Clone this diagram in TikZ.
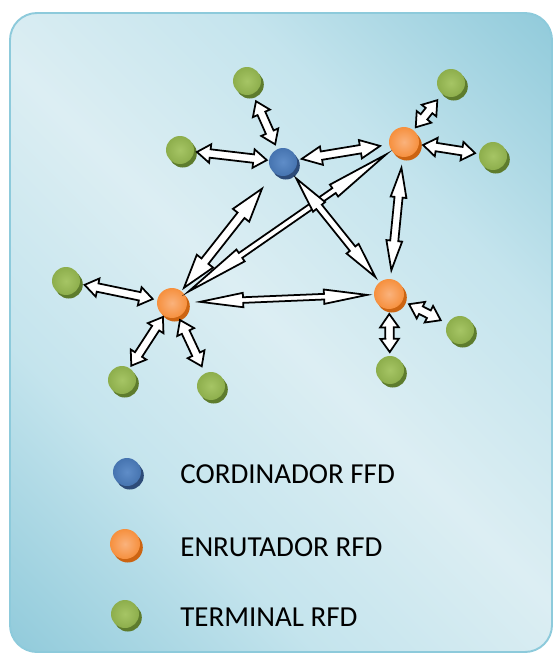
\documentclass[tikz,border=0pt]{standalone}
\usepackage{fontspec}
\setmainfont{Carlito}
\usetikzlibrary{calc,shapes.arrows,shadows}

\definecolor{paneldark}{HTML}{92CBDB}
\definecolor{panelmid}{HTML}{C4E4ED}
\definecolor{panellight}{HTML}{DCEEF3}
\definecolor{panelline}{HTML}{8DCADB}
\definecolor{blueball}{HTML}{4674B0}
\definecolor{bluelight}{HTML}{5F8DC8}
\definecolor{bluedark}{HTML}{2D4B78}
\definecolor{orangeball}{HTML}{F6903E}
\definecolor{orangelight}{HTML}{FAB27C}
\definecolor{orangedark}{HTML}{CC6412}
\definecolor{greenball}{HTML}{8DAE4C}
\definecolor{greenlight}{HTML}{A6C565}
\definecolor{greendark}{HTML}{5E7C2D}

\pgfdeclarehorizontalshading{panelfade}{100bp}{color(0bp)=(paneldark); color(15bp)=(paneldark); color(33bp)=(panelmid); color(50bp)=(panellight); color(67bp)=(panelmid); color(85bp)=(paneldark); color(100bp)=(paneldark)}

\tikzset{
  ball/.style={circle, inner sep=0pt, shading=radial},
  coordinador/.style={ball, minimum size=0.56cm, inner color=bluelight, outer color=blueball,
    general shadow={fill=bluedark, shadow xshift=1.6pt, shadow yshift=-2pt}},
  enrutador/.style={ball, minimum size=0.6cm, inner color=orangelight, outer color=orangeball,
    general shadow={fill=orangedark, shadow xshift=1.6pt, shadow yshift=-2pt}},
  terminal/.style={ball, minimum size=0.56cm, inner color=greenlight, outer color=greenball,
    general shadow={fill=greendark, shadow xshift=1.6pt, shadow yshift=-2pt}},
  link/.style={double arrow, draw=black, fill=white, line width=1pt, inner sep=0pt,
    inner ysep=1.9pt, minimum width=1pt, double arrow head extend=2.9pt, double arrow tip angle=70},
  leyenda/.style={anchor=west, inner sep=0pt, font=\fontsize{16.5}{20}\selectfont}
}

% hollow double arrow between two nodes, #3 and #4 are the gaps at each end
\newcommand{\netlink}[5][]{%
  \path let \p1 = ($(#2)!#3!(#5)$), \p2 = ($(#5)!#4!(#2)$),
    \n1 = {atan2(\y2-\y1,\x2-\x1)}, \n2 = {veclen(\x2-\x1,\y2-\y1)}
    in node[link, #1, rotate=\n1, minimum height=\n2] at ($(\p1)!0.5!(\p2)$) {};}

\begin{document}
\begin{tikzpicture}[x=0.02cm, y=-0.02cm]
  \useasboundingbox (0,0) rectangle (552,655);
  % panel
  \shadedraw[shading=panelfade, shading angle=45, draw=panelline, line width=1.1pt,
    rounded corners=0.54cm] (10,13) rectangle (552,652);

  % network
  \node[coordinador] (coord) at (283,162) {};
  \node[enrutador] (enr1) at (404,142) {};
  \node[enrutador] (enr2) at (172,303) {};
  \node[enrutador] (enr3) at (389,294) {};
  \node[terminal] (term1) at (247,81) {};
  \node[terminal] (term2) at (180,150) {};
  \node[terminal] (term3) at (451,83) {};
  \node[terminal] (term4) at (493,156) {};
  \node[terminal] (term5) at (66,281) {};
  \node[terminal] (term6) at (122,380) {};
  \node[terminal] (term7) at (211,386) {};
  \node[terminal] (term8) at (390,370) {};
  \node[terminal] (term9) at (460,330) {};

  \netlink{term1}{12.6pt}{11pt}{coord}
  \netlink{term2}{9.7pt}{9.3pt}{coord}
  \netlink[double arrow tip angle=50]{coord}{10.8pt}{13.8pt}{enr1}
  \netlink{term3}{12.5pt}{10.7pt}{enr1}
  \netlink{term4}{10.3pt}{11pt}{enr1}
  \netlink[inner ysep=2pt, double arrow head extend=3.4pt, double arrow tip angle=34]{coord}{19.3pt}{11pt}{enr2}
  \netlink[inner ysep=1.2pt, double arrow head extend=2.4pt, double arrow tip angle=13]{enr1}{12.5pt}{11.5pt}{enr2}
  \netlink[inner ysep=1.5pt, double arrow head extend=2.4pt, double arrow tip angle=24]{coord}{12pt}{12.3pt}{enr3}
  \netlink[inner ysep=1.8pt, double arrow head extend=2.2pt, double arrow tip angle=30]{enr1}{14.8pt}{13.6pt}{enr3}
  \netlink[inner ysep=1.1pt, double arrow head extend=2.5pt, double arrow tip angle=19]{enr2}{16pt}{12.5pt}{enr3}
  \netlink{term5}{10.8pt}{11.2pt}{enr2}
  \netlink{term6}{9.7pt}{9.5pt}{enr2}
  \netlink{term7}{12.4pt}{10.7pt}{enr2}
  \netlink{term8}{10.2pt}{11.4pt}{enr3}
  \netlink{term9}{12.3pt}{12.8pt}{enr3}

  % legend
  \node[coordinador] (leg1) at (127,472) {};
  \node[enrutador] (leg2) at (125,544) {};
  \node[terminal] (leg3) at (125,614) {};
  \node[leyenda] (lab1) at (180,474) {CORDINADOR FFD};
  \node[leyenda] (lab2) at (180,547) {ENRUTADOR RFD};
  \node[leyenda] (lab3) at (180,617) {TERMINAL RFD};
\end{tikzpicture}
\end{document}
